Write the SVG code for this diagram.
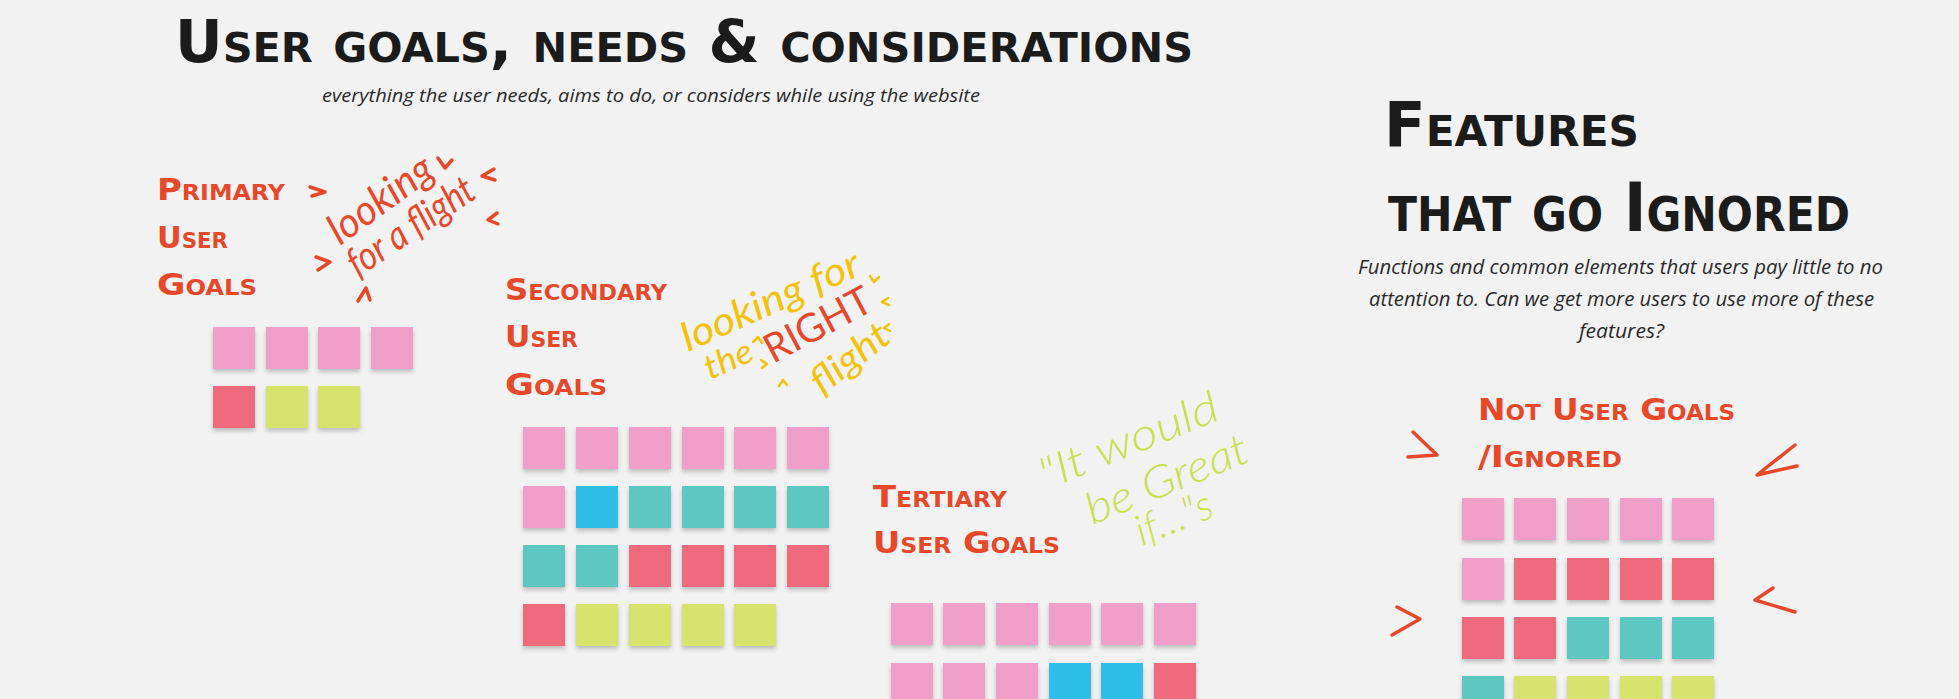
<svg xmlns="http://www.w3.org/2000/svg" width="1959" height="699" viewBox="0 0 1959 699">
<defs>
<filter id="sh" x="-20%" y="-20%" width="140%" height="150%"><feDropShadow dx="0" dy="3" stdDeviation="2" flood-color="#000" flood-opacity="0.22"/></filter>
<style>
.note rect{filter:url(#sh)}
.pk{fill:#F0A0C8}.rd{fill:#F06B7E}.lm{fill:#D6E46E}.tl{fill:#5EC7C1}.bl{fill:#2DBEE8}
.title{font-family:"DejaVu Sans",sans-serif;font-weight:bold;font-variant:small-caps;fill:#1b1b1b}
.head{font-family:"DejaVu Sans",sans-serif;font-weight:bold;font-variant:small-caps;fill:#E8482A;font-size:30px}
.hand{font-family:"Open Sans","DejaVu Sans",sans-serif;font-style:italic;fill:#2a2a2a}
.scr{font-family:"Lato","Open Sans",sans-serif;font-style:italic}
.mk{fill:none;stroke-linecap:round;stroke-linejoin:round}
.mr{stroke:#E8482A;stroke-width:3.5}
.my{stroke:#F4C20D;stroke-width:2.5}
</style>
</defs>
<rect width="1959" height="699" fill="#F2F2F2"/>

<text class="title" x="175" y="62" font-size="58" textLength="1018" lengthAdjust="spacingAndGlyphs">User goals, needs &amp; considerations</text>
<text class="hand" x="322" y="102" font-size="19" textLength="658" lengthAdjust="spacingAndGlyphs">everything the user needs, aims to do, or considers while using the website</text>

<text class="title" x="1384" y="146" font-size="62" textLength="255" lengthAdjust="spacingAndGlyphs">Features</text>
<text class="title" x="1388" y="231" font-size="68" textLength="462" lengthAdjust="spacingAndGlyphs">that go Ignored</text>
<text class="hand" x="1358" y="274" font-size="20" textLength="525" lengthAdjust="spacingAndGlyphs">Functions and common elements that users pay little to no</text>
<text class="hand" x="1369" y="306" font-size="20" textLength="505" lengthAdjust="spacingAndGlyphs">attention to. Can we get more users to use more of these</text>
<text class="hand" x="1579" y="338" font-size="20" textLength="85" lengthAdjust="spacingAndGlyphs">features?</text>

<g id="heading-primary">
<text class="head" x="157" y="200" textLength="128" lengthAdjust="spacingAndGlyphs">Primary</text>
<text class="head" x="157" y="248" textLength="71" lengthAdjust="spacingAndGlyphs">User</text>
<text class="head" x="157" y="295" textLength="100" lengthAdjust="spacingAndGlyphs">Goals</text>
</g>
<g id="heading-secondary">
<text class="head" x="505" y="300" textLength="162" lengthAdjust="spacingAndGlyphs">Secondary</text>
<text class="head" x="505" y="347" textLength="73" lengthAdjust="spacingAndGlyphs">User</text>
<text class="head" x="505" y="395" textLength="102" lengthAdjust="spacingAndGlyphs">Goals</text>
</g>
<g id="heading-tertiary">
<text class="head" x="873" y="507" textLength="134" lengthAdjust="spacingAndGlyphs">Tertiary</text>
<text class="head" x="873" y="553" textLength="187" lengthAdjust="spacingAndGlyphs">User Goals</text>
</g>
<g id="heading-not">
<text class="head" x="1478" y="420" textLength="257" lengthAdjust="spacingAndGlyphs">Not User Goals</text>
<text class="head" x="1478" y="467" textLength="144" lengthAdjust="spacingAndGlyphs">/Ignored</text>
</g>

<g id="note-looking" class="scr" fill="#E8482A">
<text transform="translate(340,246) rotate(-36)" font-size="42" textLength="120" lengthAdjust="spacingAndGlyphs">looking</text>
<text transform="translate(358,278) rotate(-34)" font-size="40" textLength="145" lengthAdjust="spacingAndGlyphs">for a flight</text>
</g>
<g id="note-right" class="scr">
<text transform="translate(688,352) rotate(-24)" font-size="40" fill="#F4C20D" textLength="192" lengthAdjust="spacingAndGlyphs">looking for</text>
<text transform="translate(710,380) rotate(-24)" font-size="34" fill="#F4C20D" textLength="50" lengthAdjust="spacingAndGlyphs">the</text>
<text transform="translate(773,364) rotate(-28)" font-size="40" fill="#E8482A" font-style="normal" textLength="116" lengthAdjust="spacingAndGlyphs">RIGHT</text>
<text transform="translate(822,396) rotate(-38)" font-size="38" fill="#F4C20D" textLength="90" lengthAdjust="spacingAndGlyphs">flight</text>
</g>
<g id="note-great" class="scr" fill="#C9E04C" font-style="normal" font-weight="300">
<g transform="translate(1046,490) rotate(-22)">
<text x="0" y="0" font-size="44" textLength="190" lengthAdjust="spacingAndGlyphs">"It would</text>
<text x="30" y="50" font-size="44" textLength="172" lengthAdjust="spacingAndGlyphs">be Great</text>
<text x="68" y="88" font-size="42" textLength="80" lengthAdjust="spacingAndGlyphs">if…"s</text>
</g>
</g>

<g id="marks">
<polyline class="mk mr" points="310,187 325,192 312,196"/>
<polyline class="mk mr" points="316,257 330,262 318,270"/>
<polyline class="mk mr" points="438,158 445,168 452,160"/>
<polyline class="mk mr" points="494,169 482,176 495,180"/>
<polyline class="mk mr" points="497,213 488,220 498,224"/>
<polyline class="mk mr" points="358,301 366,288 370,300"/>
<polyline class="mk my" points="753,342 758,337 762,343"/>
<polyline class="mk my" points="761,360 767,364 762,368"/>
<polyline class="mk my" points="779,386 783,380 787,385"/>
<polyline class="mk my" points="870,276 874,282 879,277"/>
<polyline class="mk my" points="888,298 882,302 889,305"/>
<polyline class="mk my" points="889,324 884,328 890,331"/>
<polyline class="mk mr" stroke-width="5" points="1413,432 1437,455 1408,457"/>
<polyline class="mk mr" stroke-width="5" points="1795,445 1757,475 1797,466"/>
<polyline class="mk mr" stroke-width="5" points="1397,607 1420,619 1392,635"/>
<polyline class="mk mr" stroke-width="5" points="1773,588 1755,600 1795,612"/>
</g>

<g id="connectors"/>

<g id="primary-notes">
<g id="p1" class="note"><rect class="pk" x="213" y="327" width="42" height="42"/></g>
<g id="p2" class="note"><rect class="pk" x="266" y="327" width="42" height="42"/></g>
<g id="p3" class="note"><rect class="pk" x="318" y="327" width="42" height="42"/></g>
<g id="p4" class="note"><rect class="pk" x="371" y="327" width="42" height="42"/></g>
<g id="p5" class="note"><rect class="rd" x="213" y="386" width="42" height="42"/></g>
<g id="p6" class="note"><rect class="lm" x="266" y="386" width="42" height="42"/></g>
<g id="p7" class="note"><rect class="lm" x="318" y="386" width="42" height="42"/></g>
</g>

<g id="secondary-notes">
<g id="s1" class="note"><rect class="pk" x="523" y="427" width="42" height="42"/></g>
<g id="s2" class="note"><rect class="pk" x="576" y="427" width="42" height="42"/></g>
<g id="s3" class="note"><rect class="pk" x="629" y="427" width="42" height="42"/></g>
<g id="s4" class="note"><rect class="pk" x="682" y="427" width="42" height="42"/></g>
<g id="s5" class="note"><rect class="pk" x="734" y="427" width="42" height="42"/></g>
<g id="s6" class="note"><rect class="pk" x="787" y="427" width="42" height="42"/></g>
<g id="s7" class="note"><rect class="pk" x="523" y="486" width="42" height="42"/></g>
<g id="s8" class="note"><rect class="bl" x="576" y="486" width="42" height="42"/></g>
<g id="s9" class="note"><rect class="tl" x="629" y="486" width="42" height="42"/></g>
<g id="s10" class="note"><rect class="tl" x="682" y="486" width="42" height="42"/></g>
<g id="s11" class="note"><rect class="tl" x="734" y="486" width="42" height="42"/></g>
<g id="s12" class="note"><rect class="tl" x="787" y="486" width="42" height="42"/></g>
<g id="s13" class="note"><rect class="tl" x="523" y="545" width="42" height="42"/></g>
<g id="s14" class="note"><rect class="tl" x="576" y="545" width="42" height="42"/></g>
<g id="s15" class="note"><rect class="rd" x="629" y="545" width="42" height="42"/></g>
<g id="s16" class="note"><rect class="rd" x="682" y="545" width="42" height="42"/></g>
<g id="s17" class="note"><rect class="rd" x="734" y="545" width="42" height="42"/></g>
<g id="s18" class="note"><rect class="rd" x="787" y="545" width="42" height="42"/></g>
<g id="s19" class="note"><rect class="rd" x="523" y="604" width="42" height="42"/></g>
<g id="s20" class="note"><rect class="lm" x="576" y="604" width="42" height="42"/></g>
<g id="s21" class="note"><rect class="lm" x="629" y="604" width="42" height="42"/></g>
<g id="s22" class="note"><rect class="lm" x="682" y="604" width="42" height="42"/></g>
<g id="s23" class="note"><rect class="lm" x="734" y="604" width="42" height="42"/></g>
</g>

<g id="tertiary-notes">
<g id="t1" class="note"><rect class="pk" x="891" y="603" width="42" height="42"/></g>
<g id="t2" class="note"><rect class="pk" x="943" y="603" width="42" height="42"/></g>
<g id="t3" class="note"><rect class="pk" x="996" y="603" width="42" height="42"/></g>
<g id="t4" class="note"><rect class="pk" x="1049" y="603" width="42" height="42"/></g>
<g id="t5" class="note"><rect class="pk" x="1101" y="603" width="42" height="42"/></g>
<g id="t6" class="note"><rect class="pk" x="1154" y="603" width="42" height="42"/></g>
<g id="t7" class="note"><rect class="pk" x="891" y="663" width="42" height="42"/></g>
<g id="t8" class="note"><rect class="pk" x="943" y="663" width="42" height="42"/></g>
<g id="t9" class="note"><rect class="pk" x="996" y="663" width="42" height="42"/></g>
<g id="t10" class="note"><rect class="bl" x="1049" y="663" width="42" height="42"/></g>
<g id="t11" class="note"><rect class="bl" x="1101" y="663" width="42" height="42"/></g>
<g id="t12" class="note"><rect class="rd" x="1154" y="663" width="42" height="42"/></g>
</g>

<g id="ignored-notes">
<g id="n1" class="note"><rect class="pk" x="1462" y="498" width="42" height="42"/></g>
<g id="n2" class="note"><rect class="pk" x="1514" y="498" width="42" height="42"/></g>
<g id="n3" class="note"><rect class="pk" x="1567" y="498" width="42" height="42"/></g>
<g id="n4" class="note"><rect class="pk" x="1620" y="498" width="42" height="42"/></g>
<g id="n5" class="note"><rect class="pk" x="1672" y="498" width="42" height="42"/></g>
<g id="n6" class="note"><rect class="pk" x="1462" y="558" width="42" height="42"/></g>
<g id="n7" class="note"><rect class="rd" x="1514" y="558" width="42" height="42"/></g>
<g id="n8" class="note"><rect class="rd" x="1567" y="558" width="42" height="42"/></g>
<g id="n9" class="note"><rect class="rd" x="1620" y="558" width="42" height="42"/></g>
<g id="n10" class="note"><rect class="rd" x="1672" y="558" width="42" height="42"/></g>
<g id="n11" class="note"><rect class="rd" x="1462" y="617" width="42" height="42"/></g>
<g id="n12" class="note"><rect class="rd" x="1514" y="617" width="42" height="42"/></g>
<g id="n13" class="note"><rect class="tl" x="1567" y="617" width="42" height="42"/></g>
<g id="n14" class="note"><rect class="tl" x="1620" y="617" width="42" height="42"/></g>
<g id="n15" class="note"><rect class="tl" x="1672" y="617" width="42" height="42"/></g>
<g id="n16" class="note"><rect class="tl" x="1462" y="676" width="42" height="42"/></g>
<g id="n17" class="note"><rect class="lm" x="1514" y="676" width="42" height="42"/></g>
<g id="n18" class="note"><rect class="lm" x="1567" y="676" width="42" height="42"/></g>
<g id="n19" class="note"><rect class="lm" x="1620" y="676" width="42" height="42"/></g>
<g id="n20" class="note"><rect class="lm" x="1672" y="676" width="42" height="42"/></g>
</g>
</svg>
